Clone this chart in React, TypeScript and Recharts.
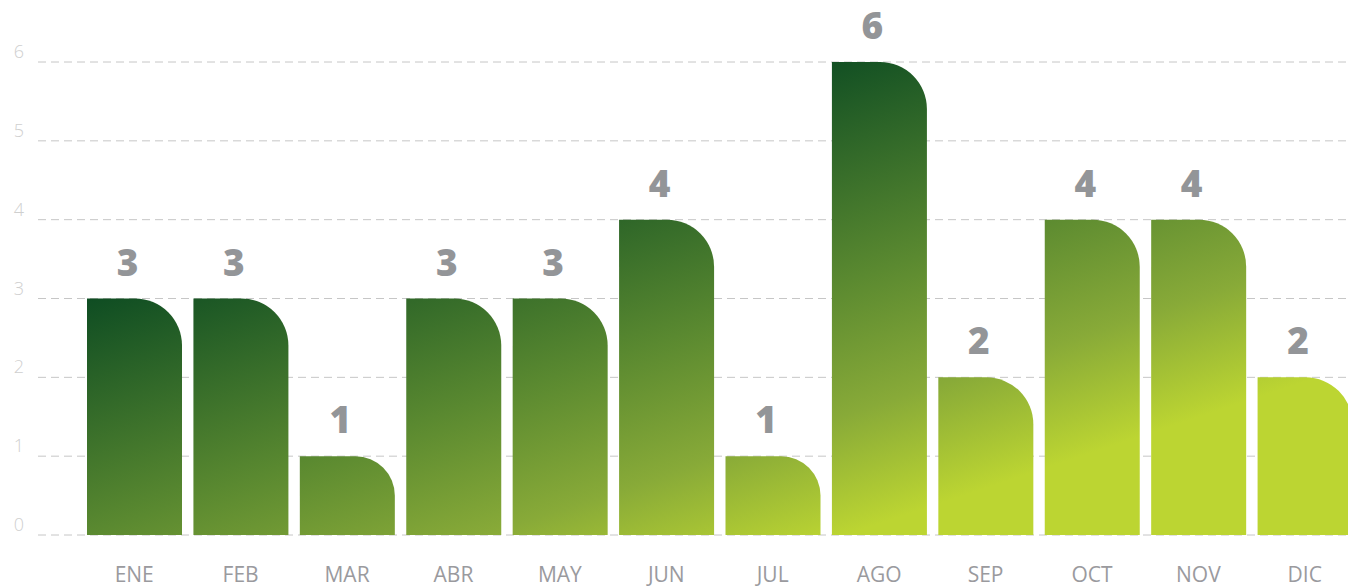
import { BarChart, Bar, XAxis, YAxis, CartesianGrid, LabelList } from "recharts"

const months = ["ENE", "FEB", "MAR", "ABR", "MAY", "JUN", "JUL", "AGO", "SEP", "OCT", "NOV", "DIC"]
const counts = [3, 3, 1, 3, 3, 4, 1, 6, 2, 4, 4, 2]
const yTicks = [0, 1, 2, 3, 4, 5, 6]

const data = months.map((month, i) => ({ month, value: counts[i] }))

const FONT = "'Open Sans', 'DejaVu Sans', sans-serif"

const XTick = ({ x, y, payload }: any) => (
  <text x={x} y={y} dy={39} textAnchor="middle" fontFamily={FONT} fontSize={21} fill="#9a9a9e">
    {payload.value}
  </text>
)

const YTick = ({ x, y, payload }: any) => (
  <text x={x - 11} y={y} dy={-4} textAnchor="middle" fontFamily={FONT} fontSize={18} fontWeight={300} fill="#cfcfcf">
    {payload.value}
  </text>
)

const ValueLabel = ({ x, y, width, value }: any) => (
  <text
    x={x + width / 2 - 7}
    y={y - 23}
    textAnchor="middle"
    fontFamily={FONT}
    fontSize={37}
    fontWeight={800}
    fill="#939598"
  >
    {value}
  </text>
)

export default function App() {
  return (
    <div style={{ position: "absolute", left: 0, top: 0, width: 1348, height: 588, overflow: "hidden" }}>
      <BarChart width={1358} height={588} data={data} margin={{ top: 62, right: 0, bottom: 0, left: 0 }}>
        <defs>
          {/* one diagonal gradient over the whole plot, dark top-left to lime bottom-right */}
          <linearGradient id="barFill" gradientUnits="userSpaceOnUse" x1={95} y1={285} x2={245} y2={735}>
            <stop offset="0" stopColor="#0b4a22" />
            <stop offset="0.49" stopColor="#5a8930" />
            <stop offset="0.76" stopColor="#88aa38" />
            <stop offset="1" stopColor="#bcd532" />
          </linearGradient>
        </defs>
        <CartesianGrid vertical={false} stroke="#c6c6c6" strokeDasharray="8 5" />
        <XAxis
          dataKey="month"
          axisLine={false}
          tickLine={false}
          height={53}
          padding={{ left: 43, right: 0 }}
          tick={<XTick />}
          interval={0}
        />
        <YAxis
          domain={[0, 6]}
          ticks={yTicks}
          axisLine={false}
          tickLine={false}
          width={38}
          tick={<YTick />}
        />
        <Bar dataKey="value" barSize={95} fill="url(#barFill)" radius={[0, 47, 0, 0]} isAnimationActive={false}>
          <LabelList dataKey="value" content={<ValueLabel />} />
        </Bar>
      </BarChart>
    </div>
  )
}
